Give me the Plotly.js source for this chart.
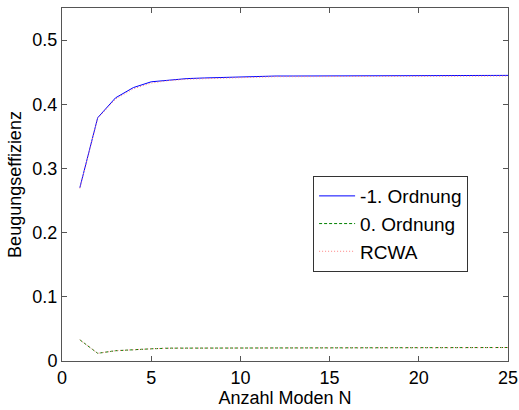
<!DOCTYPE html>
<html>
<head>
<meta charset="utf-8">
<script src="https://cdn.plot.ly/plotly-3.0.1.min.js"></script>
<style>html,body{margin:0;padding:0;background:#fff;}#chart{width:519px;height:410px;}</style>
</head>
<body>
<div id="chart"></div>
<script>
const modes = [1,2,3,4,5,6,7,8,9,10,11,12,13,14,15,16,17,18,19,20,21,22,23,24,25];
const ordMinus1 = [0.270,0.379,0.410,0.426,0.435,0.438,0.440,0.441,0.442,0.443,0.443,0.444,0.444,0.444,0.444,0.445,0.445,0.445,0.445,0.445,0.445,0.445,0.445,0.445,0.445];
const ord0 = [0.033,0.012,0.016,0.018,0.019,0.020,0.020,0.020,0.021,0.021,0.021,0.021,0.021,0.021,0.021,0.021,0.021,0.021,0.021,0.021,0.021,0.021,0.021,0.021,0.021];
const rcwaMinus1 = [0.269,0.378,0.408,0.424,0.433,0.437,0.439,0.440,0.441,0.442,0.442,0.443,0.443,0.443,0.443,0.444,0.444,0.444,0.444,0.444,0.444,0.444,0.444,0.444,0.444];
const rcwa0 = [0.033,0.012,0.016,0.018,0.019,0.020,0.020,0.020,0.021,0.021,0.021,0.021,0.021,0.021,0.021,0.021,0.021,0.021,0.021,0.021,0.021,0.021,0.021,0.021,0.021];
const legendNames = ['-1. Ordnung','0. Ordnung','RCWA'];

const traces = [
  {x: modes, y: ordMinus1, name: legendNames[0], mode:'lines', line:{color:'#0000ff', width:1}},
  {x: modes, y: ord0, name: legendNames[1], mode:'lines', line:{color:'#008000', width:1, dash:'3px,2px'}},
  {x: modes, y: rcwaMinus1, name: legendNames[2], mode:'lines', legendgroup:'rcwa', line:{color:'#ff8080', width:1, dash:'1px,2px'}},
  {x: modes, y: rcwa0, name: legendNames[2], mode:'lines', legendgroup:'rcwa', showlegend:false, line:{color:'#ff8080', width:1, dash:'1px,2px'}}
];
const font = {family:'Liberation Sans, Arial, sans-serif', size:18, color:'#000'};
const legendFont = {family:'Liberation Sans, Arial, sans-serif', size:19, color:'#000'};
const layout = {
  width:519, height:410,
  margin:{l:62, r:11, t:8, b:49},
  paper_bgcolor:'#fff', plot_bgcolor:'#fff',
  font: font,
  showlegend:true,
  xaxis:{range:[0,25], dtick:5, tick0:0, ticks:'inside', ticklen:5, tickcolor:'#555', mirror:'ticks', showline:true, linecolor:'#555', linewidth:1, showgrid:false, zeroline:false,
    title:{text:'Anzahl Moden N', font:font, standoff:0}, tickfont:font},
  yaxis:{range:[0,0.55], tickvals:[0,0.1,0.2,0.3,0.4,0.5], ticktext:['0','0.1','0.2','0.3','0.4','0.5'], ticks:'inside', ticklen:5, tickcolor:'#555', mirror:'ticks', showline:true, linecolor:'#555', linewidth:1, showgrid:false, zeroline:false,
    title:{text:'Beugungseffizienz', font:font, standoff:6}, tickfont:font},
  legend:{x:0.563, y:0.524, xanchor:'left', yanchor:'top', bgcolor:'#fff', bordercolor:'#333', borderwidth:1, font:legendFont, tracegroupgap:0, itemwidth:36}
};
Plotly.newPlot('chart', traces, layout, {displayModeBar:false, staticPlot:true});
</script>
</body>
</html>
